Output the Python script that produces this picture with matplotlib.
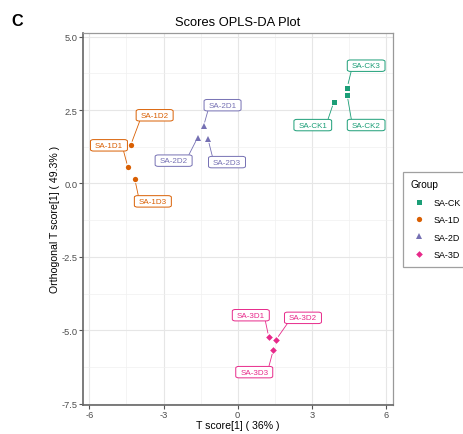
import matplotlib.pyplot as plt
import numpy as np
from matplotlib.ticker import MultipleLocator

plt.rcParams['font.family'] = ['Liberation Sans', 'DejaVu Sans']
plt.rcParams['axes.unicode_minus'] = False

# OPLS-DA scores
groups = ['SA-CK', 'SA-1D', 'SA-2D', 'SA-3D']
colors = ['#1B9E77', '#D95F02', '#7570B3', '#E7298A']
markers = ['s', 'o', '^', 'D']

sample_names = [['SA-CK1', 'SA-CK2', 'SA-CK3'],
                ['SA-1D1', 'SA-1D2', 'SA-1D3'],
                ['SA-2D1', 'SA-2D2', 'SA-2D3'],
                ['SA-3D1', 'SA-3D2', 'SA-3D3']]
t_score = [[3.89, 4.43, 4.43],
           [-4.44, -4.33, -4.16],
           [-1.38, -1.62, -1.20],
           [1.26, 1.55, 1.44]]
ortho_score = [[2.77, 3.01, 3.26],
               [0.55, 1.30, 0.14],
               [1.95, 1.56, 1.51],
               [-5.23, -5.32, -5.67]]

# label offsets (pixels) from their point, like ggrepel placed them
label_off = [[(-21, -23), (19, -30), (19, 22)],
             [(-19, 22), (24, 30), (18, -22)],
             [(19, 21), (-24, -23), (19, -23)],
             [(-18, 22), (27, 22), (-19, -22)]]

fig = plt.figure(figsize=(4.63, 4.35), dpi=100)
ax = fig.add_axes([0.1786, 0.0678, 0.671, 0.854])

msize = {'s': 3.6, 'o': 3.8, '^': 4.2, 'D': 3.4}
handles = []
for g, c, m, names, xs, ys, offs in zip(groups, colors, markers, sample_names,
                                         t_score, ortho_score, label_off):
    h, = ax.plot(xs, ys, ls='none', marker=m, color=c, ms=msize[m],
                 mew=0, zorder=3, label=g)
    handles.append(h)
    for n, x, y, (dx, dy) in zip(names, xs, ys, offs):
        w, hh = 36.0, 12.0
        rx = min(max(0.5 - dx / w, 0), 1)
        ry = min(max(0.5 - dy / hh, 0), 1)
        ax.annotate(n, (x, y), xytext=(dx, dy), textcoords='offset pixels',
                    ha='center', va='center', fontsize=5.8, color=c,
                    bbox=dict(boxstyle='round,pad=0.55,rounding_size=0.4',
                              mutation_aspect=0.5, fc='white', ec=c, lw=0.7),
                    arrowprops=dict(arrowstyle='-', color=c, lw=0.6,
                                    shrinkA=0, shrinkB=3, relpos=(rx, ry)),
                    zorder=4)

ax.set_xlim(-6.27, 6.3)
ax.set_ylim(-7.52, 5.12)
ax.xaxis.set_major_locator(MultipleLocator(3))
ax.xaxis.set_minor_locator(MultipleLocator(1.5))
ax.yaxis.set_major_locator(MultipleLocator(2.5))
ax.yaxis.set_minor_locator(MultipleLocator(1.25))
ax.yaxis.set_major_formatter(plt.FormatStrFormatter('%.1f'))
ax.grid(which='major', color='#E6E6E6', lw=0.8)
ax.grid(which='minor', color='#F0F0F0', lw=0.5)
ax.set_axisbelow(True)
ax.tick_params(which='minor', length=0)
ax.tick_params(which='major', length=2.7, width=0.8, color='#555555',
               labelsize=6.7, labelcolor='#4D4D4D', pad=1)
for s in ['left', 'bottom']:
    ax.spines[s].set_color('#666666')
    ax.spines[s].set_linewidth(1.2)
for s in ['top', 'right']:
    ax.spines[s].set_color('#999999')
    ax.spines[s].set_linewidth(0.9)

ax.set_xlabel('T score[1] ( 36% )', fontsize=7.6, labelpad=1)
ax.set_ylabel('Orthogonal T score[1] ( 49.3% )', fontsize=7.6, labelpad=1)
ax.set_title('Scores OPLS-DA Plot', fontsize=9.3, pad=6)
fig.text(0.024, 0.9517, 'C', fontsize=11.7, fontweight='bold', va='center')

leg = fig.legend(handles=handles, title='Group', loc='upper left',
                 bbox_to_anchor=(403 / 463, 1 - 172.7 / 435), fontsize=6.4,
                 title_fontsize=7.3, frameon=True, fancybox=False,
                 edgecolor='#888888', handletextpad=0.55, labelspacing=0.95,
                 borderpad=0.85, handlelength=2.0, borderaxespad=0)
leg._legend_box.align = 'left'
leg.get_frame().set_linewidth(0.9)

fig.savefig('out.png', dpi=100)
